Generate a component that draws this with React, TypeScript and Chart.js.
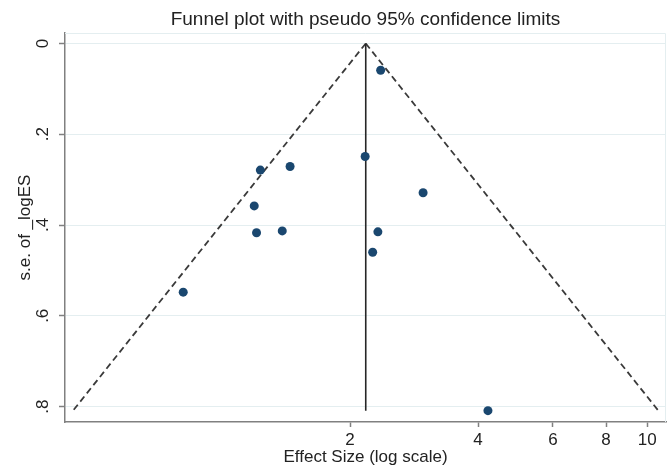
import React, { useEffect, useRef } from 'react';
import { Chart, registerables } from 'chart.js';

Chart.register(...registerables);

// Study estimates
const effectSize = [2.36, 2.17, 1.23, 1.445, 2.97, 1.19, 1.205, 1.385, 2.325, 2.26, 0.81, 4.22];
const seLogES = [0.059, 0.249, 0.279, 0.271, 0.329, 0.358, 0.417, 0.413, 0.415, 0.46, 0.548, 0.809];

// Pooled estimate line and pseudo 95% limits (end points)
const pooledEffect = [2.177, 2.177];
const pooledSe = [0, 0.809];
const lowerLimitEffect = [2.177, 0.446];
const upperLimitEffect = [2.177, 10.62];
const limitSe = [0, 0.809];

const xTickValues = [2, 4, 6, 8, 10];
const xTickLabels = ['2', '4', '6', '8', '10'];
const yTickValues = [0, 0.2, 0.4, 0.6, 0.8];
const yTickLabels = ['0', '.2', '.4', '.6', '.8'];

const titleText = 'Funnel plot with pseudo 95% confidence limits';
const xTitle = 'Effect Size (log scale)';
const yTitle = 's.e. of _logES';

const FONT = "'Liberation Sans', Arial, Helvetica, sans-serif";
const AXIS = '#808080';
const TEXT = '#222222';
const GRID = '#e4eef0';

const pts = (xs: number[], ys: number[]) => xs.map((x, i) => ({ x, y: ys[i] }));

const plotFrame = {
  id: 'plotFrame',
  beforeDatasetsDraw(chart: any) {
    const { ctx, chartArea } = chart;
    ctx.save();
    ctx.strokeStyle = GRID;
    ctx.lineWidth = 1;
    ctx.beginPath();
    ctx.moveTo(chartArea.left, chartArea.top + 0.5);
    ctx.lineTo(chartArea.right - 0.5, chartArea.top + 0.5);
    ctx.lineTo(chartArea.right - 0.5, chartArea.bottom);
    ctx.stroke();
    ctx.restore();
  },
};

export default function App() {
  const ref = useRef<HTMLCanvasElement | null>(null);

  useEffect(() => {
    document.body.style.margin = '0';
    const canvas = ref.current;
    if (!canvas) return;
    const chart = new Chart(canvas, {
      type: 'scatter',
      data: {
        datasets: [
          {
            label: 'Studies',
            data: pts(effectSize, seLogES),
            backgroundColor: '#1a476f',
            borderColor: '#1a476f',
            pointRadius: 4.5,
            pointBorderWidth: 0,
            showLine: false,
          },
          {
            label: 'Pooled',
            data: pts(pooledEffect, pooledSe),
            showLine: true,
            borderColor: '#262626',
            borderWidth: 1.6,
            pointRadius: 0,
          },
          {
            label: 'Lower limit',
            data: pts(lowerLimitEffect, limitSe),
            showLine: true,
            borderColor: '#3a3a3a',
            borderWidth: 1.8,
            borderDash: [6.5, 4],
            pointRadius: 0,
          },
          {
            label: 'Upper limit',
            data: pts(upperLimitEffect, limitSe),
            showLine: true,
            borderColor: '#3a3a3a',
            borderWidth: 1.8,
            borderDash: [6.5, 4],
            pointRadius: 0,
          },
        ],
      },
      options: {
        responsive: false,
        animation: false,
        layout: { padding: { left: 0, right: 6, top: 0, bottom: 0 } },
        plugins: {
          legend: { display: false },
          tooltip: { enabled: false },
          title: {
            display: true,
            fullSize: false,
            text: titleText,
            color: TEXT,
            font: { family: FONT, size: 19, weight: 'normal', lineHeight: 1.2 },
            padding: { top: 8.2, bottom: 2 },
          },
        },
        scales: {
          x: {
            type: 'logarithmic',
            min: 0.427,
            max: 11.07,
            afterBuildTicks: (s: any) => {
              s.ticks = xTickValues.map((v) => ({ value: v }));
            },
            afterFit: (s: any) => {
              s.height = 51;
            },
            ticks: {
              autoSkip: false,
              maxRotation: 0,
              minRotation: 0,
              padding: 3,
              color: TEXT,
              font: { family: FONT, size: 17 },
              callback: (_v: any, i: number) => xTickLabels[i],
            },
            grid: { drawOnChartArea: false, drawTicks: true, tickLength: 5, tickColor: AXIS, tickWidth: 1.5 },
            border: { display: true, color: AXIS, width: 1.5 },
            title: {
              display: true,
              text: xTitle,
              color: TEXT,
              font: { family: FONT, size: 17, lineHeight: 1.2 },
              padding: { top: 0, bottom: 5 },
            },
          },
          y: {
            type: 'linear',
            reverse: true,
            min: -0.023,
            max: 0.834,
            afterBuildTicks: (s: any) => {
              s.ticks = yTickValues.map((v) => ({ value: v }));
            },
            afterFit: (s: any) => {
              s.width = 65;
            },
            ticks: {
              autoSkip: false,
              minRotation: 90,
              maxRotation: 90,
              crossAlign: 'center',
              padding: 9,
              color: TEXT,
              font: { family: FONT, size: 17 },
              callback: (_v: any, i: number) => yTickLabels[i],
            },
            grid: { color: GRID, lineWidth: 1, tickLength: 6, tickColor: AXIS, tickWidth: 1.5 },
            border: { display: true, color: AXIS, width: 1.5 },
            title: {
              display: true,
              text: yTitle,
              color: TEXT,
              font: { family: FONT, size: 17, lineHeight: 1.2 },
              padding: { top: 15, bottom: 0 },
            },
          },
        },
      } as any,
      plugins: [plotFrame],
    });
    return () => chart.destroy();
  }, []);

  return (
    <div style={{ width: 672, height: 473, background: '#ffffff' }}>
      <canvas ref={ref} width={672} height={473} />
    </div>
  );
}
